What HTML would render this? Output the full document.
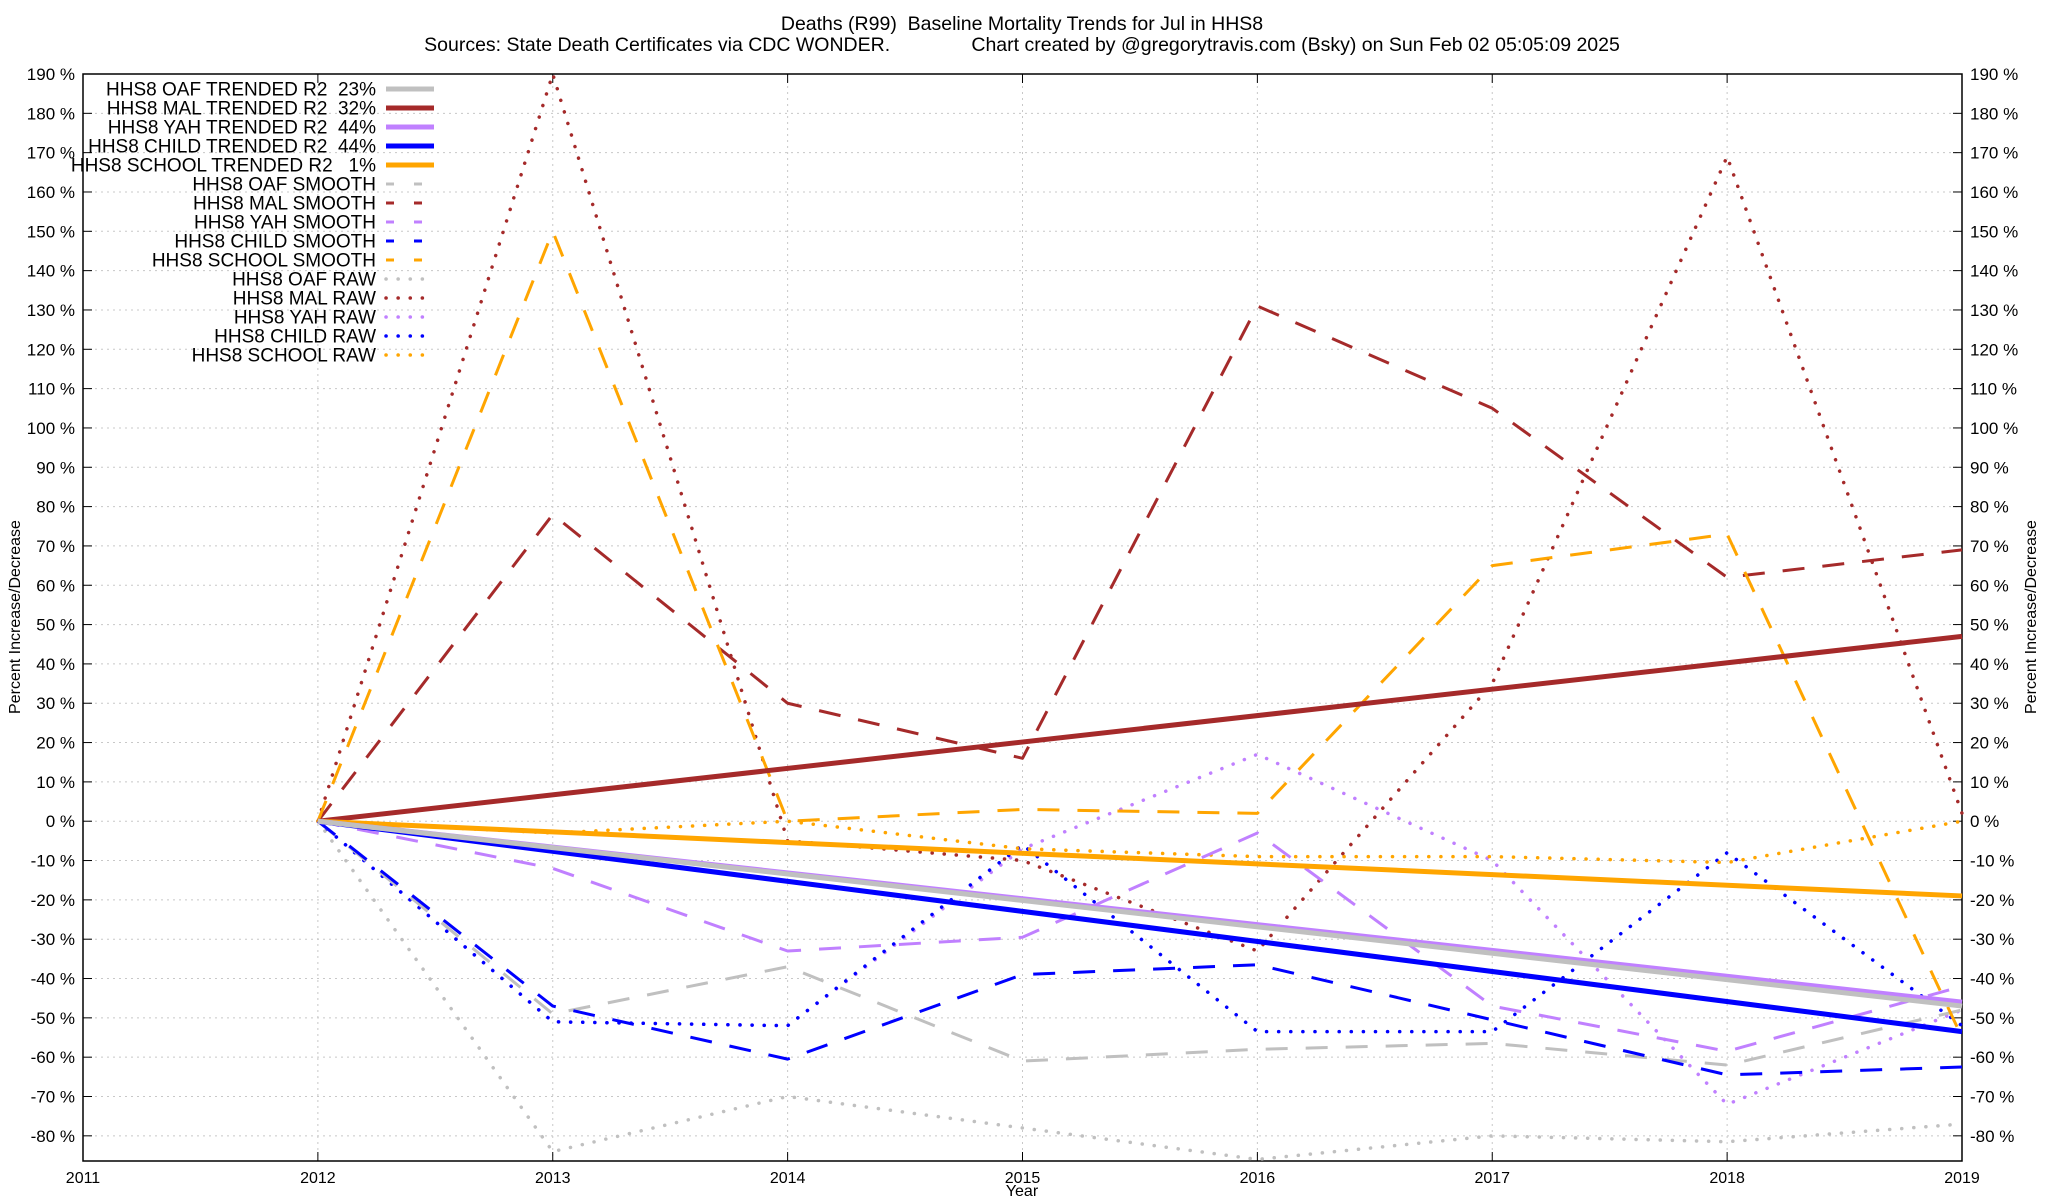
<!DOCTYPE html>
<html><head><meta charset="utf-8">
<style>
html,body{margin:0;padding:0;background:#fff;}
svg{display:block;font-family:"Liberation Sans",Arial,sans-serif;}
text{white-space:pre;}
</style></head>
<body>
<svg id="chart" width="2048" height="1200" viewBox="0 0 2048 1200" xmlns="http://www.w3.org/2000/svg">
<rect x="0" y="0" width="2048" height="1200" fill="#fff"/>
<text x="1022" y="30" font-size="19.5" text-anchor="middle" xml:space="preserve">Deaths (R99)  Baseline Mortality Trends for Jul in HHS8</text>
<text x="1022" y="51" font-size="19.5" text-anchor="middle" xml:space="preserve">Sources: State Death Certificates via CDC WONDER.               Chart created by @gregorytravis.com (Bsky) on Sun Feb 02 05:05:09 2025</text>
<g id="grid"></g>
<g id="axes"></g>
<g id="series"></g>
<g id="legend"></g>
<text x="1022" y="1196" font-size="16" text-anchor="middle">Year</text>
<text x="20" y="617" font-size="16" text-anchor="middle" transform="rotate(-90 20 617)">Percent Increase/Decrease</text>
<text x="2036" y="617" font-size="16" text-anchor="middle" transform="rotate(-90 2036 617)">Percent Increase/Decrease</text>
</svg>
<script>
const years = [2012,2013,2014,2015,2016,2017,2018,2019];
const xTicks = [2011,2012,2013,2014,2015,2016,2017,2018,2019];
const yTicks = [190,180,170,160,150,140,130,120,110,100,90,80,70,60,50,40,30,20,10,0,-10,-20,-30,-40,-50,-60,-70,-80];
const trendOAF = [0,-47];
const trendMAL = [0,47];
const trendYAH = [0,-46];
const trendCHILD = [0,-53.5];
const trendSCHOOL = [0,-19];
const smoothOAF = [0,-49,-37,-61,-58,-56.5,-62,-48];
const smoothMAL = [0,78,30,16,131,105,62,69];
const smoothYAH = [0,-12,-33,-29.5,-3,-47,-58.5,-42];
const smoothCHILD = [0,-47,-60.5,-39,-36.5,-50.5,-64.5,-62.5];
const smoothSCHOOL = [0,150,0,3,2,65,73,-55];
const rawOAF = [0,-84,-70,-78,-86,-80,-81.5,-77];
const rawMAL = [0,190,-5,-10,-33,35,169,2];
const rawYAH = [0,-51,-52,-7,17,-10,-72,-48];
const rawCHILD = [0,-51,-52,-6,-53.5,-53.5,-8,-52];
const rawSCHOOL = [0,-3,0,-7,-9,-9,-10.5,0];

const L=83,R=1962,T=74,B=1161;
const XMIN=2011,XMAX=2019,YMAX=190,YMIN=-86.4;
const xs=v=>L+(v-XMIN)/(XMAX-XMIN)*(R-L);
const ys=v=>T+(YMAX-v)/(YMAX-YMIN)*(B-T);
const NS="http://www.w3.org/2000/svg";
function mk(tag,attrs,parent){const e=document.createElementNS(NS,tag);for(const k in attrs)e.setAttribute(k,attrs[k]);parent.appendChild(e);return e;}
const grid=document.getElementById('grid'),axes=document.getElementById('axes'),series=document.getElementById('series'),legend=document.getElementById('legend');

yTicks.forEach(t=>{
  const y=ys(t);
  const g=mk('line',{x1:L,x2:R,y1:y,y2:y,stroke:'#c8c8c8','stroke-width':1,'stroke-dasharray':'2,4'},grid);
  
  
  mk('line',{x1:L,x2:L+9,y1:y,y2:y,stroke:'#000','stroke-width':1},axes);
  mk('line',{x1:R-9,x2:R,y1:y,y2:y,stroke:'#000','stroke-width':1},axes);
  const a=mk('text',{x:L-8,y:y+6,'font-size':17,'text-anchor':'end'},axes);a.textContent=t+' %';
  
  
  const b=mk('text',{x:R+8,y:y+6,'font-size':17,'text-anchor':'start'},axes);b.textContent=t+' %';
  
  
});
xTicks.forEach(t=>{
  const x=xs(t);
  const g=mk('line',{x1:x,x2:x,y1:T,y2:B,stroke:'#c8c8c8','stroke-width':1,'stroke-dasharray':'2,4'},grid);
  
  
  mk('line',{x1:x,x2:x,y1:B,y2:B-9,stroke:'#000','stroke-width':1},axes);
  mk('line',{x1:x,x2:x,y1:T,y2:T+9,stroke:'#000','stroke-width':1},axes);
  const a=mk('text',{x:x,y:B+22,'font-size':16,'text-anchor':'middle'},axes);a.textContent=t;
  
  
});
const fr=mk('rect',{x:L,y:T,width:R-L,height:B-T,fill:'none',stroke:'#000','stroke-width':1.5},axes);



const GRAY='#c0c0c0',MAL='#a52a2a',YAH='#c080ff',BLUE='#0000ff',ORANGE='#ffa500';
const styles={trend:{w:5,d:null},smooth:{w:3,d:'22,18'},raw:{w:3.5,d:'0.1,12'}};
function draw(vals,xv,color,kind,name){
  const st=styles[kind];
  const pts=vals.map((v,i)=>xs(xv[i])+','+ys(v)).join(' ');
  const a={points:pts,fill:'none',stroke:color,'stroke-width':st.w,'stroke-linejoin':'round'};
  if(st.d){a['stroke-dasharray']=st.d;}
  if(kind==='raw')a['stroke-linecap']='round';
  const p=mk('polyline',a,series);
  
  
}
const tx=[2012,2019];
draw(rawOAF,years,GRAY,'raw','oaf-raw-line');
draw(rawMAL,years,MAL,'raw','mal-raw-line');
draw(rawYAH,years,YAH,'raw','yah-raw-line');
draw(rawCHILD,years,BLUE,'raw','child-raw-line');
draw(rawSCHOOL,years,ORANGE,'raw','school-raw-line');
draw(smoothOAF,years,GRAY,'smooth','oaf-smooth-line');
draw(smoothMAL,years,MAL,'smooth','mal-smooth-line');
draw(smoothYAH,years,YAH,'smooth','yah-smooth-line');
draw(smoothCHILD,years,BLUE,'smooth','child-smooth-line');
draw(smoothSCHOOL,years,ORANGE,'smooth','school-smooth-line');
draw(trendMAL,tx,MAL,'trend','mal-trend-line');
draw(trendSCHOOL,tx,ORANGE,'trend','school-trend-line');
draw(trendCHILD,tx,BLUE,'trend','child-trend-line');
draw(trendYAH,tx,YAH,'trend','yah-trend-line');
draw(trendOAF,tx,GRAY,'trend','oaf-trend-line');

const legendItems=[
 ['HHS8 OAF TRENDED R2  23%',GRAY,'trend'],
 ['HHS8 MAL TRENDED R2  32%',MAL,'trend'],
 ['HHS8 YAH TRENDED R2  44%',YAH,'trend'],
 ['HHS8 CHILD TRENDED R2  44%',BLUE,'trend'],
 ['HHS8 SCHOOL TRENDED R2   1%',ORANGE,'trend'],
 ['HHS8 OAF SMOOTH',GRAY,'smooth'],
 ['HHS8 MAL SMOOTH',MAL,'smooth'],
 ['HHS8 YAH SMOOTH',YAH,'smooth'],
 ['HHS8 CHILD SMOOTH',BLUE,'smooth'],
 ['HHS8 SCHOOL SMOOTH',ORANGE,'smooth'],
 ['HHS8 OAF RAW',GRAY,'raw'],
 ['HHS8 MAL RAW',MAL,'raw'],
 ['HHS8 YAH RAW',YAH,'raw'],
 ['HHS8 CHILD RAW',BLUE,'raw'],
 ['HHS8 SCHOOL RAW',ORANGE,'raw']];
legendItems.forEach((it,i)=>{
  const y=89+i*19;
  const g=mk('g',{},legend);
  
  
  const t=mk('text',{x:376,y:y+6.5,'font-size':19,'text-anchor':'end','xml:space':'preserve'},g);t.textContent=it[0];
  const st=it[2]==='trend'?{w:5,d:null}:it[2]==='smooth'?{w:3,d:'8,20'}:{w:3.5,d:'0.1,12'};
  const a={x1:386,x2:434,y1:y,y2:y,stroke:it[1],'stroke-width':st.w};
  if(st.d)a['stroke-dasharray']=st.d;
  if(it[2]==='raw')a['stroke-linecap']='round';
  mk('line',a,g);
});
</script>
</body></html>
